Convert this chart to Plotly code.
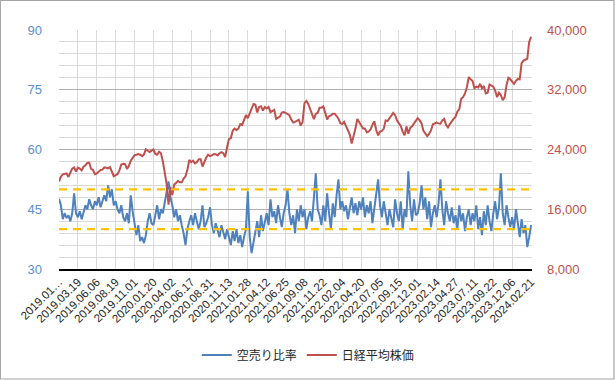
import plotly.graph_objects as go

TICK_LABELS = ["2019.01…", "2019.03.19", "2019.06.06", "2019.08.19", "2019.11.01",
               "2020.01.20", "2020.04.02", "2020.06.17", "2020.08.31", "2020.11.13",
               "2021.01.28", "2021.04.12", "2021.06.25", "2021.09.08", "2021.11.22",
               "2022.02.04", "2022.04.20", "2022.07.05", "2022.09.15", "2022.12.01",
               "2023.02.14", "2023.04.27", "2023.07.11", "2023.09.22", "2023.12.06",
               "2024.02.21"]
SAMPLES_PER_TICK = 10

# short-selling ratio (%), sampled about every 5 trading days
short_ratio = [
    47.6, 46, 42.5, 44, 42.8, 43.5, 42, 44, 49, 44,
    43, 44.5, 42.5, 44, 46, 45, 47.5, 46, 45, 47,
    46, 48, 45.5, 47, 48.5, 47, 51, 48, 50, 46,
    47, 45, 44, 46, 43, 42, 44, 41.5, 48.5, 44.5,
    41, 38.5, 41, 37, 38, 36.5, 38.5, 42, 44, 41.5,
    41, 44, 46, 42.5, 45, 44, 47, 50, 52, 48,
    46, 43, 45, 42, 43.5, 41, 39, 36, 40, 42,
    43.5, 41, 44, 42, 40, 42, 46, 40.5, 41.5, 43,
    45.5, 41, 39, 41.5, 40, 38, 41, 39.5, 37.5, 40,
    38, 36, 39.5, 37, 40, 36.5, 38.5, 35.5, 38, 40,
    49.5, 38, 34, 37, 40, 42, 38, 43.5, 39.5, 42,
    44, 41, 47.5, 43, 44.5, 41.5, 46, 43, 40.5, 44,
    46, 50, 44, 41, 43.5, 39, 45, 42, 46, 43,
    45, 40, 43, 44.5, 42, 48, 54, 45, 43.5, 41,
    46, 42, 49, 44, 40, 46.5, 43, 48.5, 52.5, 45,
    47, 44.5, 46, 42.5, 45, 48, 44, 46.5, 43.5, 47,
    45, 48, 43, 46, 44, 47, 41.5, 45.5, 49, 52.5,
    46, 43, 47, 44, 41, 45, 42.5, 40.5, 47.5, 44,
    42, 47, 40, 45, 43, 54.5, 46, 42, 47.5, 43.5,
    44, 46.5, 51, 45, 48, 42.5, 47, 40.5, 44, 46,
    43, 46.5, 52.5, 45, 41, 47, 44, 42, 45.5, 41.5,
    43.5, 40, 46, 42, 44, 39.5, 43, 45, 41, 44,
    42, 46, 40, 43, 38.5, 44.5, 41, 46, 42, 39.5,
    44, 47, 42.5, 45.5, 54, 44, 41, 46, 43, 40.5,
    43, 40, 45, 41, 38, 42.5, 39, 41, 35.5, 38,
    41,
]

# Nikkei 225 (yen), same sampling
nikkei = [
    19700, 20360, 20670, 20770, 20790, 20330, 20900, 21430, 21600, 21030,
    21570, 21450, 21200, 21700, 21900, 22200, 22250, 21400, 21250, 20700,
    20800, 21100, 21250, 21300, 21600, 21550, 21470, 21650, 21030, 20420,
    20560, 20700, 21200, 21990, 22080, 22050, 21410, 21800, 22490, 22800,
    23250, 23300, 23400, 23300, 23110, 23350, 24020, 23830, 23650, 23850,
    24000, 23400, 23300, 23700, 23500, 22400, 21100, 19400, 16600, 19000,
    17900, 19300, 19500, 19800, 19600, 19600, 20100, 20400, 21300, 22600,
    22300, 22500, 22150, 22300, 22700, 22700, 21710, 22330, 22920, 23300,
    23100, 23200, 23400, 23360, 23200, 23500, 23650, 23500, 22980, 24300,
    25400, 25500, 26500, 26800, 26600, 26800, 27400, 27300, 28100, 28600,
    28200, 28800, 29500, 30100, 30000, 28960, 29700, 29800, 29200, 29700,
    29500, 29700, 29000, 29100, 29300, 28100, 28300, 28400, 28950, 29000,
    28900, 28800, 28600, 28000, 27600, 27700, 27800, 28000, 27200, 27700,
    30200, 30500, 30100, 29400, 28500, 28050, 28800, 28900, 29600, 29600,
    29770, 28750, 28030, 28440, 28550, 28780, 28790, 28480, 28120, 27520,
    27400, 27700, 27100, 26400, 26000, 24800, 25700, 26800, 28100, 27700,
    27200, 26800, 26800, 26300, 26400, 26700, 27300, 27800, 26600, 25900,
    26400, 26500, 26800, 27900, 27800, 28200, 28500, 28900, 28600, 27900,
    27500, 27150, 26400, 25900, 27100, 26100, 26900, 27100, 27500, 27900,
    28200, 27900, 27500, 26500, 26100, 25800, 26100, 26550, 27380, 27500,
    27600, 27500, 27450, 27900, 28100, 27300, 26950, 27400, 27800, 28100,
    28400, 29100, 29400, 30800, 31000, 31500, 32300, 33700, 33400, 33200,
    32200, 32400, 32300, 32800, 32200, 32500, 31500, 31600, 32700, 32600,
    32400, 31900, 31000, 31600, 31300, 30600, 30990, 32600, 33600, 33400,
    33100, 32800, 33200, 33450, 33400, 35550, 35900, 36000, 36150, 38400,
    39100,
]

REF_LOW, REF_HIGH = 40, 50

x = list(range(len(short_ratio)))
tickvals = [i * SAMPLES_PER_TICK for i in range(len(TICK_LABELS))]

FONT = "Liberation Sans, Arial, Noto Sans CJK JP, sans-serif"
BLUE = "#4f81bd"
RED = "#c0504d"

fig = go.Figure()
fig.add_trace(go.Scatter(x=x, y=short_ratio, name="空売り比率", mode="lines",
                         line=dict(color=BLUE, width=2), yaxis="y"))
fig.add_trace(go.Scatter(x=list(range(len(nikkei))), y=nikkei, name="日経平均株価", mode="lines",
                         line=dict(color=RED, width=2), yaxis="y2"))

for lvl in (REF_LOW, REF_HIGH):
    fig.add_shape(type="line", xref="paper", yref="y", x0=0, x1=1, y0=lvl, y1=lvl,
                  line=dict(color="#ffc000", width=2.2, dash="8px,6px"), layer="above")

ML, MR, MT, MB = 59, 83, 30, 111
W, H = 615, 380
pw, ph = W - ML - MR, H - MT - MB
fig.add_shape(type="rect", xref="paper", yref="paper",
              x0=-ML / pw + 0.0008, x1=1 + (MR - 1) / pw, y0=-(MB - 1) / ph, y1=1 + (MT - 0.5) / ph,
              line=dict(color="#a6a6a6", width=1.2), fillcolor="rgba(0,0,0,0)", layer="below")

fig.update_layout(
    width=W, height=H,
    margin=dict(l=ML, r=MR, t=MT, b=MB, autoexpand=False),
    paper_bgcolor="white", plot_bgcolor="white",
    font=dict(family=FONT, size=12, color="#404040"),
    showlegend=True,
    legend=dict(orientation="h", x=0.527, xanchor="center", y=-0.36, yanchor="middle",
                font=dict(size=12, color="#262626"), itemwidth=30, tracegroupgap=0),
    xaxis=dict(range=[0, len(short_ratio) - 1 + 0.5], tickvals=tickvals, ticktext=TICK_LABELS,
               tickangle=-45, tickfont=dict(size=11.5, color="#262626"), automargin=False,
               showgrid=True, gridcolor="#d9d9d9", gridwidth=1,
               showline=True, linecolor="black", linewidth=1.5, zeroline=False, ticks=""),
    yaxis=dict(range=[30, 90], dtick=15, tick0=30, showgrid=True, gridcolor="#b0b0b0", gridwidth=1,
               minor=dict(dtick=3, showgrid=True, gridcolor="#d9d9d9", gridwidth=1),
               tickfont=dict(size=13, color="#5b8fd0"), zeroline=False, ticks="", automargin=False,
               ticklabelstandoff=16),
    yaxis2=dict(range=[8000, 40000], tickvals=[8000, 16000, 24000, 32000, 40000],
                tickformat=",", overlaying="y", side="right", showgrid=False, zeroline=False,
                tickfont=dict(size=13, color="#c0504d"), ticks="", automargin=False,
                ticklabelstandoff=14),
)

fig.write_html("out.html", config={"displayModeBar": False},
               post_script="document.body.style.margin='0px';")
